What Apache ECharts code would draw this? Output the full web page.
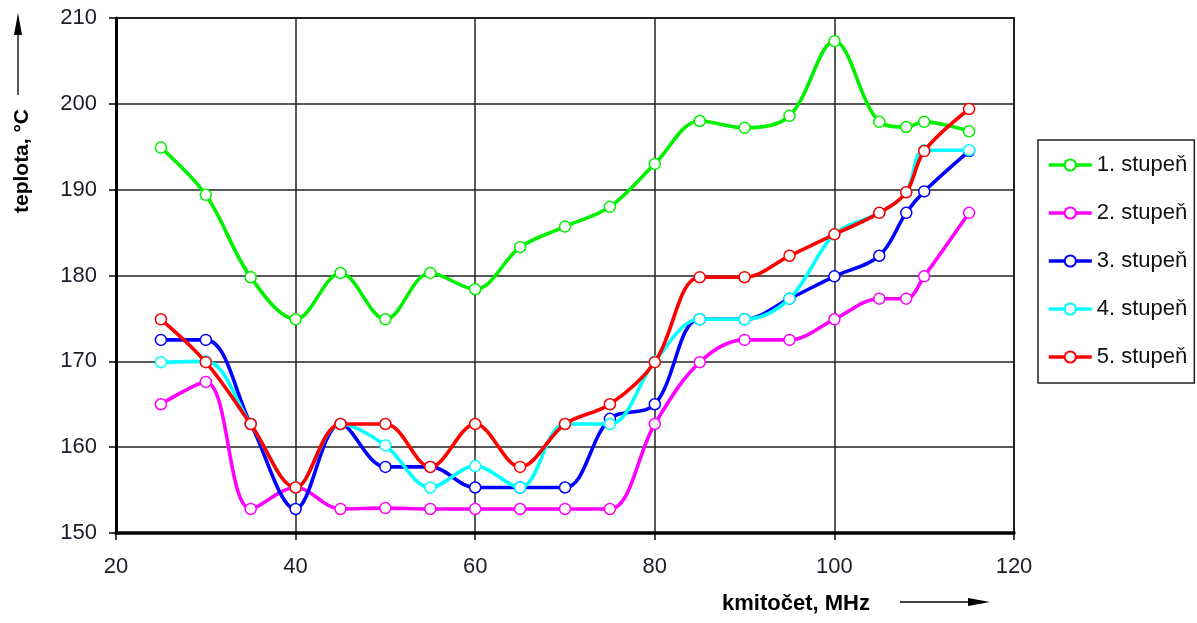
<!DOCTYPE html>
<html><head><meta charset="utf-8">
<script src="https://cdn.jsdelivr.net/npm/echarts@6/dist/echarts.min.js"></script>
<style>html,body{margin:0;padding:0;background:#fff}#c{width:1197px;height:623px}</style>
</head><body><div id="c"></div>
<script>
const freq = [25,30,35,40,45,50,55,60,65,70,75,80,85,90,95,100,105,108,110,115];
const names = ['1. stupeň','2. stupeň','3. stupeň','4. stupeň','5. stupeň'];
const s1 = [194.9,189.4,179.8,174.9,180.3,174.9,180.3,178.4,183.3,185.7,188.0,193.0,198.0,197.2,198.6,207.3,197.9,197.3,197.9,196.8];
const s2 = [165.0,167.6,152.8,155.3,152.8,152.9,152.8,152.8,152.8,152.8,152.8,162.7,169.9,172.5,172.5,174.9,177.3,177.3,179.9,187.3];
const s3 = [172.5,172.5,162.7,152.8,162.7,157.7,157.7,155.3,155.3,155.3,163.3,165.0,174.9,174.9,177.3,179.9,182.3,187.3,189.8,194.5];
const s4 = [169.9,170.0,162.7,155.3,162.7,160.2,155.3,157.8,155.3,162.7,162.7,170.0,174.9,174.9,177.3,184.8,187.3,189.7,194.6,194.6];
const s5 = [174.9,169.9,162.7,155.3,162.7,162.7,157.7,162.7,157.7,162.7,165.0,169.9,179.8,179.8,182.3,184.8,187.3,189.7,194.5,199.4];
const colors = ['#00f000','#ff00ff','#0000ff','#00ffff','#ff0000'];
const xTicks = [20,40,60,80,100,120];
const yTicks = [150,160,170,180,190,200,210];
const allSeries = [s1,s2,s3,s4,s5];

const FONT = '"Liberation Sans", Arial, sans-serif';
const chart = echarts.init(document.getElementById('c'), null, {renderer:'canvas'});
chart.setOption({
  animation:false,
  backgroundColor:'#fff',
  grid:{left:116,top:18,width:898,height:515,show:true,borderColor:'#222',borderWidth:2,backgroundColor:'transparent'},
  xAxis:{type:'value',min:xTicks[0],max:xTicks[xTicks.length-1],interval:20,
    axisLine:{show:true,onZero:false,lineStyle:{color:'#000',width:3.5}},
    axisTick:{show:true,length:7,lineStyle:{color:'#000',width:1.5}},
    axisLabel:{fontFamily:FONT,fontSize:22,color:'#1c1c28',margin:23},
    splitLine:{show:true,lineStyle:{color:'#222',width:1.5}}},
  yAxis:{type:'value',min:yTicks[0],max:yTicks[yTicks.length-1],interval:10,
    axisLine:{show:true,onZero:false,lineStyle:{color:'#000',width:3}},
    axisTick:{show:true,length:7,lineStyle:{color:'#000',width:1.5}},
    axisLabel:{fontFamily:FONT,fontSize:22,color:'#1c1c28',margin:19},
    splitLine:{show:true,lineStyle:{color:'#222',width:1.5}}},
  legend:{orient:'vertical',left:1038,top:140,
    padding:[14,7,15,9],itemGap:26,itemWidth:43,itemHeight:14,
    backgroundColor:'#fff',borderColor:'#222',borderWidth:1.5,borderRadius:0,
    lineStyle:{width:3.6},
    textStyle:{fontFamily:FONT,fontSize:22,color:'#111',lineHeight:22},
    data:names},
  series: allSeries.map((arr,i)=>({
    name:names[i],type:'line',smooth:0.35,
    data:freq.map((f,j)=>[f,arr[j]]),
    symbol:'circle',symbolSize:11,
    lineStyle:{color:colors[i],width:3.6},
    itemStyle:{color:'#fff',borderColor:colors[i],borderWidth:1.5},
    z:2+i
  })),
  graphic:[
    {type:'text',x:722,y:604,style:{text:'kmitočet, MHz',font:'bold 22px '+FONT,fill:'#000',verticalAlign:'middle'}},
    {type:'line',shape:{x1:900,y1:602,x2:972,y2:602},style:{stroke:'#000',lineWidth:1.3}},
    {type:'polygon',shape:{points:[[990,602],[968,598],[968,606]]},style:{fill:'#000'}},
    {type:'text',x:22,y:161,rotation:Math.PI/2,style:{text:'teplota, °C',font:'bold 21px '+FONT,fill:'#000',align:'center',verticalAlign:'middle'}},
    {type:'line',shape:{x1:18,y1:95,x2:18,y2:30},style:{stroke:'#000',lineWidth:1.3}},
    {type:'polygon',shape:{points:[[18,13],[14,35],[22,35]]},style:{fill:'#000'}}
  ]
});
</script></body></html>
